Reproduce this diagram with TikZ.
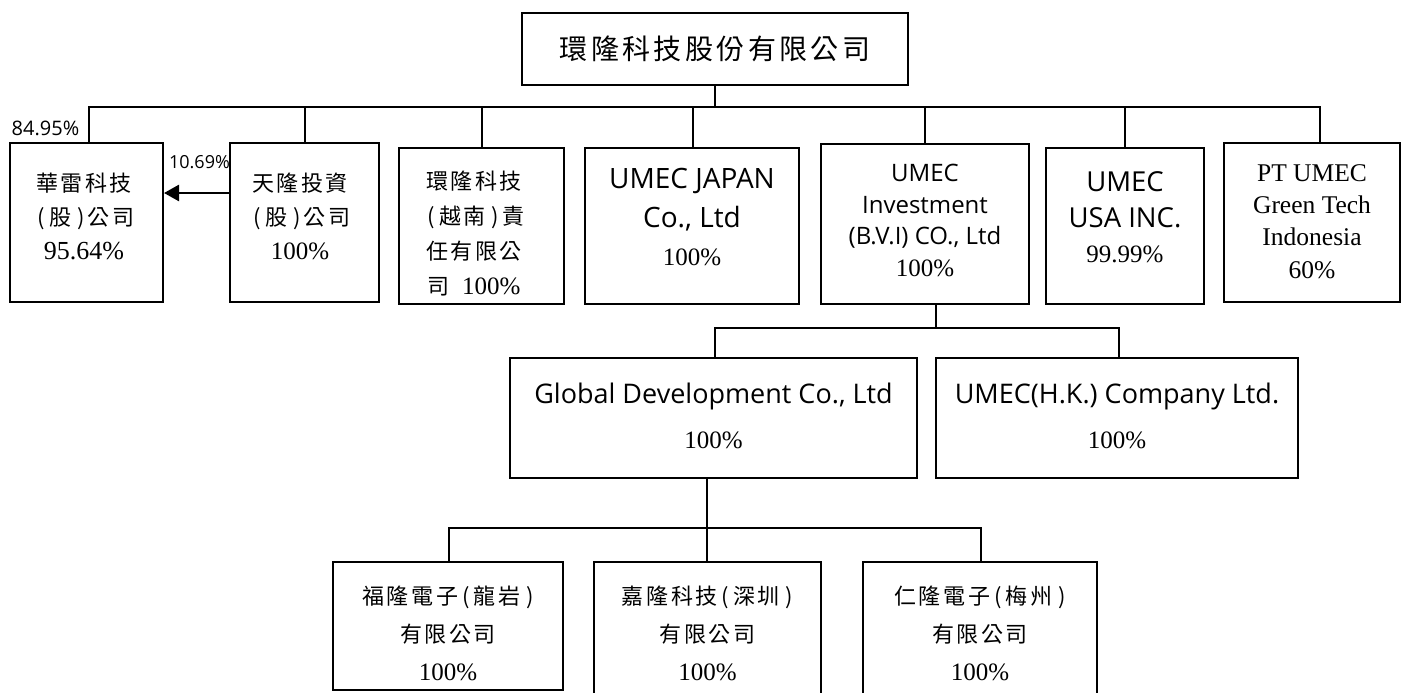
\documentclass[tikz,border=0pt]{standalone}
\usepackage{fontspec}
\setmainfont{Liberation Serif}
\newfontfamily\cjk[LetterSpace=12]{Noto Sans CJK TC}
\newfontfamily\sgf{Open Sans}
\usetikzlibrary{arrows.meta}
\newcommand\fs[2]{\fontsize{#1}{#2}\selectfont}
\newcommand\ckt[1]{{\cjk\fontsize{22}{22}\selectfont #1}}
\newcommand\sgt[2]{{\sgf\fontsize{#1}{#1}\selectfont #2}}
\newcommand\lp{\kern4pt(\kern4pt}
\newcommand\rp{\kern6pt)}
\begin{document}
\begin{tikzpicture}[x=1pt,y=-1pt,
  box/.style={draw, line width=2pt, inner sep=0pt},
  txt/.style={inner sep=0pt, align=center},
  link/.style={line width=2pt},
  arr/.style={line width=2.6pt, -{Triangle[length=15pt,width=16pt]}},
  lbl/.style={inner sep=0pt}]
\useasboundingbox (0,0) rectangle (1411,693);
\clip (0,0) rectangle (1411,693);

% top
\node[box, minimum width=386pt, minimum height=72pt, font=\fs{28}{34}\cjk] (top) at (715,49) {環隆科技股份有限公司};

% first level boxes
\node[box, minimum width=153pt, minimum height=159pt] (b1) at (86.5,222.5) {};
\node[box, minimum width=149pt, minimum height=159pt] (b2) at (304.5,222.5) {};
\node[box, minimum width=165pt, minimum height=156pt] (b3) at (481.5,226) {};
\node[box, minimum width=214pt, minimum height=156pt] (b4) at (692,226) {};
\node[box, minimum width=208pt, minimum height=160pt] (b5) at (925,224) {};
\node[box, minimum width=158pt, minimum height=156pt] (b6) at (1125,226) {};
\node[box, minimum width=176pt, minimum height=159pt] (b7) at (1312,222.5) {};

% first level texts
\node[txt, font=\fs{26}{34}] (t1) at (84,216.5) {\ckt{華雷科技}\\\ckt{\lp 股\rp 公司}\\95.64\%};
\node[txt, font=\fs{25}{34}] (t2) at (300,216.5) {\ckt{天隆投資}\\\ckt{\lp 股\rp 公司}\\100\%};
\node[txt, font=\fs{25}{35}] (t3) at (474,234) {\ckt{環隆科技}\\\ckt{\lp 越南\rp 責}\\\ckt{任有限公}\\\ckt{司}\ \ 100\%};
\node[txt, font=\fs{25}{38.5}] (t4) at (692,217.5) {\sgt{28}{UMEC JAPAN}\\\sgt{28}{Co., Ltd}\\100\%};
\node[txt, font=\fs{25}{31.7}] (t5) at (925,220.5) {\sgt{24}{UMEC}\\\sgt{24}{Investment}\\\sgt{24}{(B.V.I) CO., Ltd}\\100\%};
\node[txt, font=\fs{25}{35.5}] (t6) at (1125,217.5) {\sgt{27.5}{UMEC}\\\sgt{27.5}{USA INC.}\\99.99\%};
\node[txt, font=\fs{25.5}{32.3}] (t7) at (1312,221.5) {PT UMEC\\Green Tech\\Indonesia\\60\%};

% second level
\node[box, minimum width=407pt, minimum height=120pt] (g) at (713.5,418) {};
\node[box, minimum width=362pt, minimum height=120pt] (hk) at (1117,418) {};
\node[txt, font=\fs{25}{45}] (tg) at (713.5,415.5) {\sgt{27}{Global Development Co., Ltd}\\100\%};
\node[txt, font=\fs{25}{45}] (thk) at (1117,415.5) {\sgt{27}{UMEC(H.K.) Company Ltd.}\\100\%};

% third level
\node[box, minimum width=230pt, minimum height=128pt] (c1) at (448,626) {};
\node[box, minimum width=227pt, minimum height=138pt] (c2) at (707.5,631) {};
\node[box, minimum width=234pt, minimum height=138pt] (c3) at (980,631) {};
\node[txt, font=\fs{25}{38}] (tc1) at (448,633) {\ckt{福隆電子\lp 龍岩\rp}\\\ckt{有限公司}\\100\%};
\node[txt, font=\fs{25}{38}] (tc2) at (707.5,633) {\ckt{嘉隆科技\lp 深圳\rp}\\\ckt{有限公司}\\100\%};
\node[txt, font=\fs{25}{38}] (tc3) at (980,633) {\ckt{仁隆電子\lp 梅州\rp}\\\ckt{有限公司}\\100\%};

% connectors level 1
\coordinate (bus) at (715,107);
\draw[link] (top.south) -- (bus);
\draw[link] (bus) -| ([xshift=2.5pt]b1.north);
\draw[link] (bus) -| ([xshift=0.5pt]b2.north);
\draw[link] (bus) -| ([xshift=0.5pt]b3.north);
\draw[link] (bus) -| ([xshift=1pt]b4.north);
\draw[link] (bus) -| (b5.north);
\draw[link] (bus) -| (b6.north);
\draw[link] (bus) -| ([xshift=8pt]b7.north);

% arrow between b2 and b1
\draw[arr] ([yshift=29.5pt]b2.west) -- ([yshift=29.5pt]b1.east);
\node[lbl, font=\sgf\fs{20}{20}] (p1) at (45.5,128) {84.95\%};
\node[lbl, font=\sgf\fs{18}{18}] (p2) at (199.5,162) {10.69\%};

% connectors level 2
\coordinate (bus2) at (936,328);
\draw[link] (bus2 |- b5.south) -- (bus2);
\draw[link] (bus2) -| ([xshift=1.5pt]g.north);
\draw[link] (bus2) -| ([xshift=2pt]hk.north);

% connectors level 3
\coordinate (bus3) at (707,528);
\draw[link] (bus3 |- g.south) -- (bus3);
\draw[link] (bus3) -| ([xshift=1pt]c1.north);
\draw[link] (bus3) -| ([xshift=-0.5pt]c2.north);
\draw[link] (bus3) -| ([xshift=1pt]c3.north);
\end{tikzpicture}
\end{document}
